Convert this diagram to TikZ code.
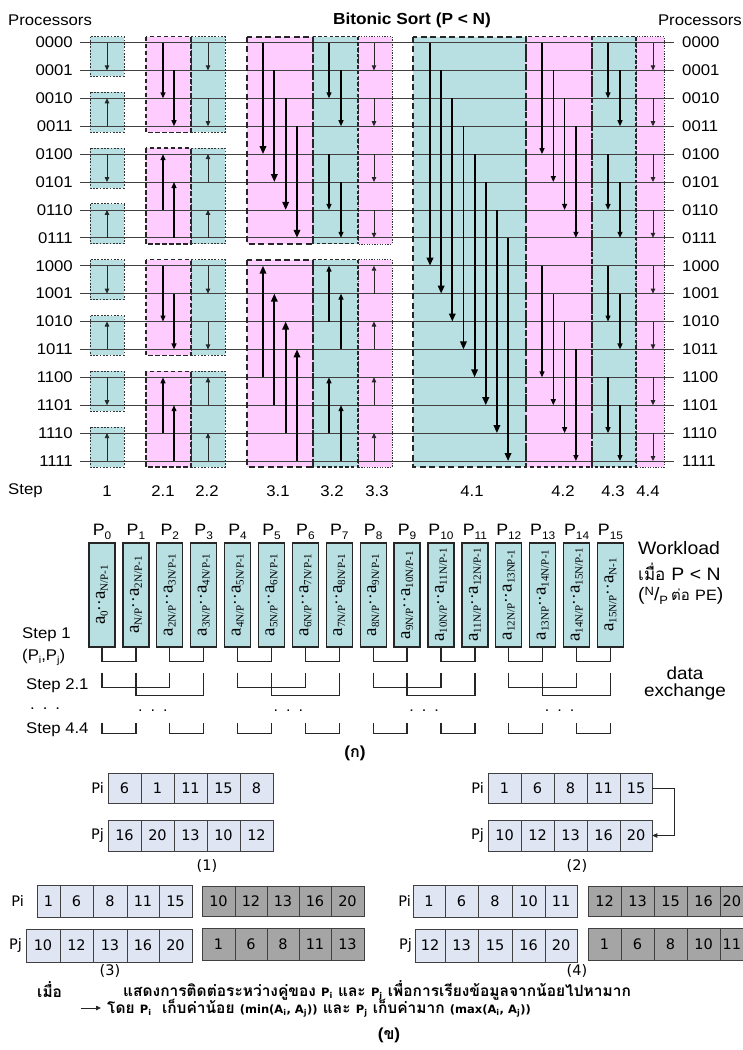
\documentclass[tikz,border=0pt]{standalone}
\usepackage{fontspec}
\setmainfont{Liberation Sans}[FakeStretch=1.08]
\newfontfamily\serf{Liberation Serif}
\newfontfamily\thaif[Script=Thai]{Loma}
\newfontfamily\tahf{DejaVu Sans}
\usetikzlibrary{arrows.meta,calc}
\definecolor{tealbox}{RGB}{184,224,227}
\definecolor{pinkbox}{RGB}{255,204,255}
\definecolor{cellfill}{RGB}{223,229,243}
\definecolor{cellgray}{RGB}{165,165,165}
\newcommand\fs[1]{\fontsize{#1}{#1}\selectfont}
\newcommand\ry[1]{(42.5+27.9*(#1))}
\newcommand\colbox[5]{\path[#1] (#2,{\ry{#4}-6}) rectangle (#3,{\ry{#5}+6});}
\newcommand\vv[4]{\draw[#1] (#2,{\ry{#3}}) -- (#2,{\ry{#4}});}
\newcommand\elem[2]{\serf\fs{19}a\raisebox{-3pt}{\fs{11}#1}\fs{17}··\fs{19}a\raisebox{-3pt}{\fs{11}#2}}
\newcommand\Psub[1]{P\raisebox{-4pt}{\fs{11}#1}}
\newcommand\cellrow[5]{\foreach \xa/\xb/\vl [count=\cc] in {#5}{\node[cell,fill=#4,minimum width={\xb-\xa},minimum height={#3-#2}] (#1\cc) at ({(\xa+\xb)/2},{(#2+#3)/2}) {\vl};}}
\begin{document}
\begin{tikzpicture}[x=1pt,y=-1pt,
  every node/.style={inner sep=0pt},
  dotb/.style={draw=black!80,line width=0.9pt,dash pattern=on 1.8pt off 1.5pt},
  thinb/.style={draw=black!80,line width=0.6pt,dash pattern=on 1.3pt off 1.3pt},
  medb/.style={draw=black!85,line width=1.1pt,dash pattern=on 3.5pt off 2.2pt},
  midb/.style={draw=black!85,line width=1.4pt,dash pattern=on 4.5pt off 2.5pt},
  bigb/.style={draw=black!85,line width=2pt,dash pattern=on 6pt off 3.5pt},
  rowl/.style={draw=black!75,line width=0.7pt},
  arr/.style={draw=black!85,line width=0.8pt,-{Triangle[length=5pt,width=4.5pt]}},
  marr/.style={draw=black,line width=1.2pt,-{Triangle[length=6pt,width=5pt]}},
  tarr/.style={draw=black,line width=1.8pt,-{Triangle[length=8pt,width=6.5pt]}},
  lab/.style={font=\fs{15.5}},
  pbox/.style={draw=black!85,line width=1.3pt,fill=tealbox,minimum width=26pt,minimum height=104pt},
  brk/.style={draw=black!85,line width=1.3pt},
  cell/.style={draw=black!75,line width=0.6pt,font=\tahf\fs{14.5}},
  capt/.style={anchor=west,font=\thaif\bfseries\fs{15.5}}
]
\useasboundingbox (0,0) rectangle (743,1050);
% ---------- fills
\foreach \m in {0,...,7}{\pgfmathtruncatemacro\ra{2*\m}\pgfmathtruncatemacro\rb{2*\m+1}%
  \colbox{fill=tealbox}{90}{124}{\ra}{\rb}}
\foreach \g in {0,...,3}{\pgfmathtruncatemacro\ra{4*\g}\pgfmathtruncatemacro\rb{4*\g+3}%
  \colbox{fill=pinkbox}{146}{191}{\ra}{\rb}\colbox{fill=tealbox}{191}{225}{\ra}{\rb}}
\foreach \h in {0,1}{\pgfmathtruncatemacro\ra{8*\h}\pgfmathtruncatemacro\rb{8*\h+7}%
  \colbox{fill=pinkbox}{247}{313}{\ra}{\rb}\colbox{fill=tealbox}{313}{358}{\ra}{\rb}\colbox{fill=pinkbox}{358}{392}{\ra}{\rb}}
\colbox{fill=tealbox}{413}{526}{0}{15}
\colbox{fill=pinkbox}{526}{592}{0}{15}
\colbox{fill=tealbox}{592}{636}{0}{15}
\colbox{fill=pinkbox}{636}{664}{0}{15}
% ---------- rows
\foreach \k/\lab in {0/0000,1/0001,2/0010,3/0011,4/0100,5/0101,6/0110,7/0111,8/1000,9/1001,10/1010,11/1011,12/1100,13/1101,14/1110,15/1111}{
  \node[lab,anchor=east] (L\k) at (73,{\ry{\k}}) {\lab};
  \node[lab,anchor=west] (R\k) at (682,{\ry{\k}}) {\lab};
  \draw[rowl] ([xshift=7pt]L\k.east) -- ([xshift=-8pt]R\k.west);
}
% ---------- borders
\foreach \m in {0,...,7}{\pgfmathtruncatemacro\ra{2*\m}\pgfmathtruncatemacro\rb{2*\m+1}%
  \colbox{dotb}{90}{124}{\ra}{\rb}}
\foreach \g in {0,...,3}{\pgfmathtruncatemacro\ra{4*\g}\pgfmathtruncatemacro\rb{4*\g+3}%
  \colbox{dotb}{191}{225}{\ra}{\rb}\colbox{midb}{146}{191}{\ra}{\rb}}
\foreach \h in {0,1}{\pgfmathtruncatemacro\ra{8*\h}\pgfmathtruncatemacro\rb{8*\h+7}%
  \colbox{thinb}{358}{392}{\ra}{\rb}\colbox{medb}{313}{358}{\ra}{\rb}\colbox{bigb}{247}{313}{\ra}{\rb}}
\colbox{thinb}{636}{664}{0}{15}
\colbox{medb}{592}{636}{0}{15}
\colbox{midb}{526}{592}{0}{15}
\colbox{bigb}{413}{526}{0}{15}
% ---------- arrows
\foreach \m in {0,...,7}{\pgfmathtruncatemacro\ra{2*\m}\pgfmathtruncatemacro\rb{2*\m+1}%
  \ifodd\m\relax \vv{arr}{107}{\rb}{\ra}\else \vv{arr}{107}{\ra}{\rb}\fi}
\foreach \g in {0,...,3}{\pgfmathtruncatemacro\ra{4*\g}\pgfmathtruncatemacro\rb{4*\g+1}\pgfmathtruncatemacro\rc{4*\g+2}\pgfmathtruncatemacro\rd{4*\g+3}%
  \ifodd\g\relax
    \vv{marr}{163}{\rc}{\ra}\vv{marr}{174}{\rd}{\rb}\vv{arr}{208}{\rb}{\ra}\vv{arr}{208}{\rd}{\rc}
  \else
    \vv{marr}{163}{\ra}{\rc}\vv{marr}{174}{\rb}{\rd}\vv{arr}{208}{\ra}{\rb}\vv{arr}{208}{\rc}{\rd}
  \fi}
\foreach \i in {0,...,3}{\pgfmathtruncatemacro\ra{\i}\pgfmathtruncatemacro\rb{\i+4}\pgfmathtruncatemacro\rc{\i+8}\pgfmathtruncatemacro\rd{\i+12}%
  \pgfmathsetmacro\xx{263+11.33*\i}%
  \vv{tarr}{\xx}{\ra}{\rb}\vv{tarr}{\xx}{\rd}{\rc}}
\foreach \b in {0,4,8,12}{\foreach \i in {0,1}{\pgfmathtruncatemacro\ra{\b+\i}\pgfmathtruncatemacro\rb{\b+\i+2}\pgfmathsetmacro\xx{329+12*\i}%
  \ifnum\b<8\relax \vv{marr}{\xx}{\ra}{\rb}\else \vv{marr}{\xx}{\rb}{\ra}\fi}}
\foreach \m in {0,...,7}{\pgfmathtruncatemacro\ra{2*\m}\pgfmathtruncatemacro\rb{2*\m+1}%
  \ifnum\m<4\relax \vv{arr}{374}{\ra}{\rb}\else \vv{arr}{374}{\rb}{\ra}\fi}
\foreach \i in {0,...,7}{\pgfmathtruncatemacro\rb{\i+8}\pgfmathsetmacro\xx{430+11.15*\i}%
  \vv{tarr}{\xx}{\i}{\rb}}
\foreach \b in {0,8}{\foreach \i in {0,...,3}{\pgfmathtruncatemacro\ra{\b+\i}\pgfmathtruncatemacro\rb{\b+\i+4}\pgfmathsetmacro\xx{542+11.3*\i}%
  \vv{marr}{\xx}{\ra}{\rb}}}
\foreach \b in {0,4,8,12}{\foreach \i in {0,1}{\pgfmathtruncatemacro\ra{\b+\i}\pgfmathtruncatemacro\rb{\b+\i+2}\pgfmathsetmacro\xx{608+12*\i}%
  \vv{marr}{\xx}{\ra}{\rb}}}
\foreach \m in {0,...,7}{\pgfmathtruncatemacro\ra{2*\m}\pgfmathtruncatemacro\rb{2*\m+1}%
  \vv{arr}{653}{\ra}{\rb}}
% ---------- titles
\node[lab,anchor=west] (procL) at (8,20) {Processors};
\node[lab,anchor=east] (procR) at (742,20) {Processors};
\node[font=\bfseries\fs{16}] (title) at (412,20) {Bitonic Sort (P < N)};
\node[lab,anchor=west] (stepw) at (8,491) {Step};
\foreach \x/\t [count=\c] in {107/1,163/2.1,207/2.2,278/3.1,332/3.2,377/3.3,472/4.1,563/4.2,613/4.3,648/4.4}
  \node[lab] (st\c) at (\x,491) {\t};
% ---------- part (a)
\foreach \i in {0,...,15}{
  \node[font=\fs{16.5}] (P\i) at ({102+33.9*\i},532) {\Psub{\i}};
  \node[pbox] (b\i) at ({102+33.9*\i},595) {};
}
\node[rotate=90] (t0) at (b0) {\elem{0}{N/P-1}};
\node[rotate=90] (t1) at (b1) {\elem{N/P}{2N/P-1}};
\node[rotate=90] (t2) at (b2) {\elem{2N/P}{3N/P-1}};
\node[rotate=90] (t3) at (b3) {\elem{3N/P}{4N/P-1}};
\node[rotate=90] (t4) at (b4) {\elem{4N/P}{5N/P-1}};
\node[rotate=90] (t5) at (b5) {\elem{5N/P}{6N/P-1}};
\node[rotate=90] (t6) at (b6) {\elem{6N/P}{7N/P-1}};
\node[rotate=90] (t7) at (b7) {\elem{7N/P}{8N/P-1}};
\node[rotate=90] (t8) at (b8) {\elem{8N/P}{9N/P-1}};
\node[rotate=90] (t9) at (b9) {\elem{9N/P}{10N/P-1}};
\node[rotate=90] (t10) at (b10) {\elem{10N/P}{11N/P-1}};
\node[rotate=90] (t11) at (b11) {\elem{11N/P}{12N/P-1}};
\node[rotate=90] (t12) at (b12) {\elem{12N/P}{13NP-1}};
\node[rotate=90] (t13) at (b13) {\elem{13NP}{14N/P-1}};
\node[rotate=90] (t14) at (b14) {\elem{14N/P}{15N/P-1}};
\node[rotate=90] (t15) at (b15) {\elem{15N/P}{N-1}};
\foreach \i in {0,2,...,14}{\pgfmathtruncatemacro\j{\i+1}%
  \draw[brk] (b\i.south) -- ++(0,14) -| (b\j.south);
  \draw[brk] ($(b\i.south)+(0,75)$) -- ++(0,11) -| ($(b\j.south)+(0,75)$);}
\foreach \g in {0,4,8,12}{\pgfmathtruncatemacro\ga{\g}\pgfmathtruncatemacro\gb{\g+1}\pgfmathtruncatemacro\gc{\g+2}\pgfmathtruncatemacro\gd{\g+3}%
  \draw[brk] ($(b\ga.south)+(0,25)$) -- ++(0,15) -| ($(b\gc.south)+(0,25)$);
  \draw[brk] ($(b\gb.south)+(0,25)$) -- ++(0,23) -| ($(b\gd.south)+(0,25)$);
  \node[font=\fs{15}] (dots\g) at ($(b\gb.south)!0.5!(b\gc.south)+(0,63)$) {.\hspace{8pt}.\hspace{8pt}.};}
\node[lab,anchor=west] (s1) at (22,635) {Step 1};
\node[lab,anchor=west] (pij) at (22,657) {(P\raisebox{-3pt}{\fs{10}i},P\raisebox{-3pt}{\fs{10}j})};
\node[lab,anchor=west] (s21) at (26,686) {Step 2.1};
\node[lab,anchor=west] (sdots) at (30,709) {.\hspace{8pt}.\hspace{8pt}.};
\node[lab,anchor=west] (s44) at (26,730) {Step 4.4};
\node[font=\fs{18},anchor=west] (wl) at (638,548) {Workload};
\node[anchor=west] (wl2) at (638,572) {{\thaif\fs{17}เมื่อ}\hspace{6pt}{\fs{18}P < N}};
\node[anchor=west] (wl3) at (638,596) {\fs{18}(\raisebox{5pt}{\fs{12}N}/\raisebox{-4pt}{\fs{12}P}\hspace{3pt}{\thaif\fs{15}ต่อ} \fs{15}PE\fs{18})};
\node[font=\fs{17.5}] (dxa) at (685,673) {data};
\node[font=\fs{17.5}] (dxb) at (685,692) {exchange};
\node[font=\bfseries\fs{16}] (ka) at (355,753) {({\thaif ก})};
% ---------- part (b)
\cellrow{c1i}{773}{803}{cellfill}{108/141/6,141/174/1,174/207/11,207/240/15,240/273/8}
\cellrow{c1j}{820}{851}{cellfill}{108/141/16,141/174/20,174/207/13,207/240/10,240/273/12}
\cellrow{c2i}{773}{803}{cellfill}{488/521/1,521/554/6,554/587/8,587/620/11,620/652/15}
\cellrow{c2j}{820}{851}{cellfill}{488/521/10,521/554/12,554/587/13,587/620/16,620/652/20}
\cellrow{c3i}{885}{917}{cellfill}{37/60/1,60/93/6,93/127/8,127/159/11,159/192/15}
\cellrow{c3j}{929}{962}{cellfill}{26/60/10,60/93/12,93/127/13,127/159/16,159/192/20}
\cellrow{g3i}{886}{916}{cellgray}{202/235/10,235/267/12,267/299/13,299/331/16,331/364/20}
\cellrow{g3j}{928}{960}{cellgray}{202/235/1,235/267/6,267/299/8,299/331/11,331/364/13}
\cellrow{c4i}{885}{917}{cellfill}{413/445/1,445/478/6,478/512/8,512/545/10,545/577/11}
\cellrow{c4j}{929}{962}{cellfill}{415/445/12,445/478/13,478/512/15,512/545/16,545/577/20}
\cellrow{g4i}{886}{916}{cellgray}{588/621/12,621/654/13,654/687/15,687/720/16,720/743.5/20}
\cellrow{g4j}{928}{960}{cellgray}{588/621/1,621/654/6,654/687/8,687/720/10,720/743.5/11}
\foreach \nm/\x/\y/\t in {pa/104/788/Pi,pb/104/835/Pj,pc/484/788/Pi,pd/484/835/Pj,pe/24/901/Pi,pf/22/945/Pj,pg/411/901/Pi,ph/412/945/Pj}
  \node[anchor=east,font=\tahf\fs{14.5}] (\nm) at (\x,\y) {\t};
\foreach \nm/\x/\y/\t in {n1/207/866/(1),n2/577/866/(2),n3/110/971/(3),n4/577/971/(4)}
  \node[font=\tahf\fs{14.5}] (\nm) at (\x,\y) {\t};
\draw[arr] (c2i5.east) -- ++(22,0) |- (c2j5.east);
% ---------- caption
\node[capt] (cap0) at (37,990) {เมื่อ};
\node[capt] (cap1) at (123,990) {แสดงการติดต่อระหว่างคู่ของ {\tahf\fs{11.5}P\textsubscript{i}} และ {\tahf\fs{11.5}P\textsubscript{j}} เพื่อการเรียงข้อมูลจากน้อยไปหามาก};
\node[capt] (cap2) at (107,1008) {โดย {\tahf\fs{11.5}P\textsubscript{i}}\ \ เก็บค่าน้อย {\tahf\fs{11.5}(min(A\textsubscript{i}, A\textsubscript{j}))} และ {\tahf\fs{11.5}P\textsubscript{j}} เก็บค่ามาก {\tahf\fs{11.5}(max(A\textsubscript{i}, A\textsubscript{j}))}};
\coordinate (capA) at (81,1008);
\draw[arr] (capA) -- ([xshift=-6pt]cap2.west);
\node[font=\bfseries\fs{16}] (kha) at (389,1035) {({\thaif ข})};
\end{tikzpicture}
\end{document}
